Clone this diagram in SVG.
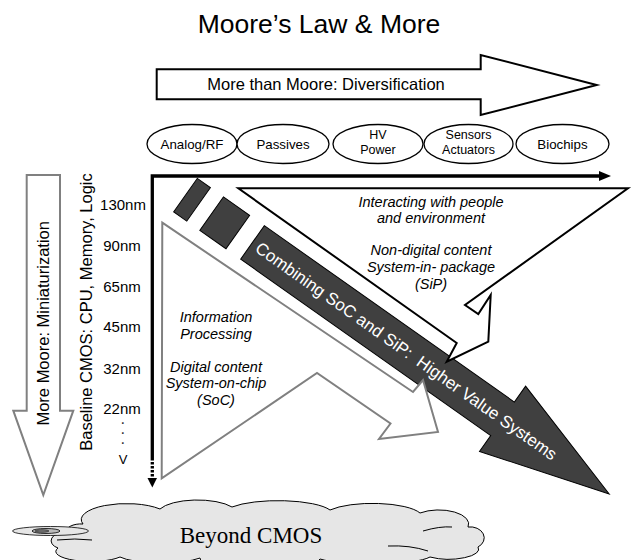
<svg xmlns="http://www.w3.org/2000/svg" width="632" height="560" viewBox="0 0 632 560">
<style>
text{font-family:"Liberation Sans",Arial,sans-serif;fill:#000}
.lbl{font-size:13.3px;text-anchor:middle}
.lbl2{font-size:12.5px;text-anchor:middle}
.it{font-size:14.5px;font-style:italic;text-anchor:middle}
.nm{font-size:15px;text-anchor:middle}
.big{font-size:16.5px;text-anchor:middle}
.gray{fill:#fff;stroke:#808080;stroke-width:2;stroke-linejoin:miter}
.blk{fill:#fff;stroke:#000;stroke-width:2}
.oval{fill:#fff;stroke:#000;stroke-width:1.3}
.dark{fill:#404040;stroke:#000;stroke-width:1}
.axis{fill:none;stroke:#000;stroke-width:3.3}
</style>
<rect width="632" height="560" fill="#fff"/>
<g id="title"><text x="319" y="33" font-size="26.5" text-anchor="middle">Moore’s Law &amp; More</text></g>
<g id="more-than-moore">
<polygon class="blk" points="156.7,69.3 480.7,69.3 480.7,55 596.7,85 480.7,115 480.7,99.3 156.7,99.3"/>
<text class="big" x="326" y="90">More than Moore: Diversification</text>
</g>
<g id="analog-rf"><ellipse class="oval" cx="192" cy="144" rx="45" ry="19.5"/><text class="lbl" x="192" y="148.5">Analog/RF</text></g>
<g id="passives"><ellipse class="oval" cx="283" cy="144" rx="46" ry="19.5"/><text class="lbl" x="283" y="148.5">Passives</text></g>
<g id="hv-power"><ellipse class="oval" cx="378" cy="144" rx="45" ry="19.5"/><text class="lbl2" x="378" y="139">HV</text><text class="lbl2" x="378" y="153.5">Power</text></g>
<g id="sensors"><ellipse class="oval" cx="468.5" cy="144" rx="44.5" ry="19.5"/><text class="lbl2" x="468.5" y="139">Sensors</text><text class="lbl2" x="468.5" y="153.5">Actuators</text></g>
<g id="biochips"><ellipse class="oval" cx="562.5" cy="144" rx="46.5" ry="19.5"/><text class="lbl" x="562.5" y="148.5">Biochips</text></g>
<g id="more-moore">
<polygon class="gray" points="26.7,175 60,175 60,410.7 73.3,410.7 43.3,495 13.3,410.7 26.7,410.7"/>
<text class="big" transform="translate(49,323.3) rotate(-90)">More Moore: Miniaturization</text>
</g>
<g id="baseline-cmos">
<text class="big" transform="translate(92,312) rotate(-90)">Baseline CMOS: CPU, Memory, Logic</text>
<text class="nm" x="123" y="210">130nm</text>
<text class="nm" x="122" y="251">90nm</text>
<text class="nm" x="122" y="292">65nm</text>
<text class="nm" x="122" y="332">45nm</text>
<text class="nm" x="122" y="374">32nm</text>
<text class="nm" x="122" y="414">22nm</text>
<text transform="translate(122,421) rotate(90)" font-size="15" letter-spacing="0.85" xml:space="preserve">. . .</text>
<text x="123" y="464" font-size="13" text-anchor="middle">V</text>
</g>
<g id="connectors">
<path class="axis" d="M152.3,458 V176 H600"/>
<polygon points="599,171 611,176 599,181" fill="#000"/>
<path d="M152.3,458 V478" fill="none" stroke="#000" stroke-width="3.3" stroke-dasharray="2.5,1.5"/>
<polygon points="147.5,478 157,478 152.3,487.5" fill="#000"/>
</g>
<g id="combining" transform="translate(252.5,242.4) rotate(35.2)">
<rect class="dark" x="-82" y="-20.5" width="16" height="41"/>
<rect class="dark" x="-50" y="-20.5" width="32" height="41"/>
<polygon class="dark" points="0,-20.5 306,-20.5 306,-40 436.5,0 306,40 306,20.5 0,20.5"/>
</g>
<g id="soc">
<polygon class="gray" points="162.3,222.7 413,392 423,380 438,432 379,439 390.5,423.5 317,373 161.7,478.3"/>
<text class="it" x="216" y="322">Information</text>
<text class="it" x="216" y="338.5">Processing</text>
<text class="it" x="216" y="372">Digital content</text>
<text class="it" x="216" y="388">System-on-chip</text>
<text class="it" x="216" y="405">(SoC)</text>
</g>
<g id="sip">
<polygon class="blk" points="238.3,188.3 628,188.3 465,305 478.3,314 490.7,295 488.3,341.7 446.7,361.7 456.7,343"/>
<text class="it" x="431" y="207">Interacting with people</text>
<text class="it" x="431" y="222.5">and environment</text>
<text class="it" x="431" y="255">Non-digital content</text>
<text class="it" x="431" y="272">System-in- package</text>
<text class="it" x="431" y="289">(SiP)</text>
</g>
<g id="combining-label" transform="translate(252.5,242.4) rotate(35.2)">
<text x="6" y="6" font-size="17" style="fill:#fff" xml:space="preserve">Combining SoC and SiP:  Higher Value Systems</text>
</g>
<g id="beyond-cmos">
<path d="M83,524 A45,16 0 0 1 160,509 A40,14 0 0 1 232,507 A55,14 0 0 1 330,510 A50,14 0 0 1 420,513 A30,14 0 0 1 468,527 A14,11 0 0 1 478,547 A30,10 0 0 1 430,557 A60,10 0 0 1 320,559 A60,10 0 0 1 200,558 A45,10 0 0 1 120,557 A35,10 0 0 1 58,548 A12,8 0 0 1 66,533 A15,8 0 0 1 83,524 Z" fill="#e6e6e6" stroke="#000" stroke-width="1"/>
<path d="M57,540 Q75,538 92,540 M423,531 Q440,526 452,527 M388,546 Q410,545 428,551" fill="none" stroke="#000" stroke-width="1"/>
<ellipse cx="50.5" cy="531" rx="38" ry="4.5" fill="#e6e6e6" stroke="#000" stroke-width="0.8"/>
<ellipse cx="46" cy="531" rx="14" ry="2.5" fill="#bbb" stroke="#000" stroke-width="0.8"/>
<ellipse cx="42" cy="531" rx="7" ry="1.3" fill="#777" stroke="#000" stroke-width="0.5"/>
<text x="251" y="543" font-size="23" text-anchor="middle" style="font-family:'Liberation Serif',serif">Beyond CMOS</text>
</g>
</svg>
